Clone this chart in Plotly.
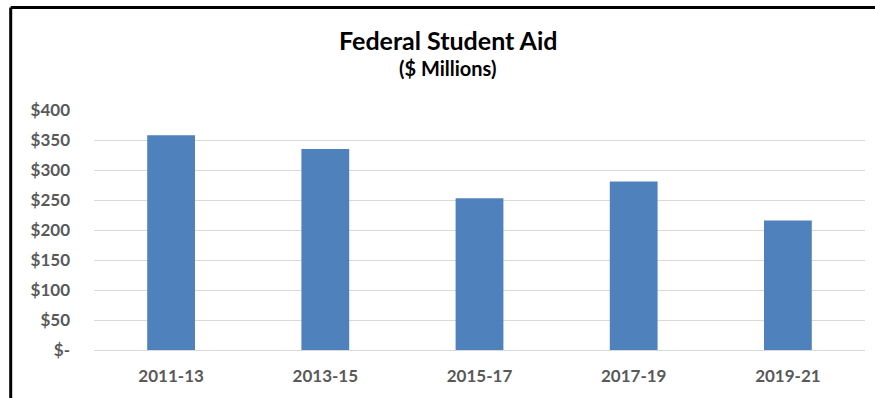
import plotly.graph_objects as go

categories = ["2011-13", "2013-15", "2015-17", "2017-19", "2019-21"]
values = [358, 335, 253, 281, 216]
tick_vals = [0, 50, 100, 150, 200, 250, 300, 350, 400]
tick_text = ["$-", "$50", "$100", "$150", "$200", "$250", "$300", "$350", "$400"]

W, H = 875, 398
ML, MR, MT, MB = 94, 10, 110, 48
pw = W - ML - MR
ph = H - MT - MB

FONT = "Lato"
GRAY = "#595959"

fig = go.Figure(go.Bar(x=categories, y=values, marker=dict(color="#4F81BD", line=dict(width=0)), width=0.31))

# border lines (left and top)
left_x = (10.7 - ML) / pw
top_y = (H - MB - 7.5) / ph
fig.add_shape(type="line", xref="paper", yref="paper", x0=left_x, x1=left_x, y0=-0.3, y1=top_y,
              line=dict(color="black", width=3))
fig.add_shape(type="line", xref="paper", yref="paper", x0=left_x, x1=(W + 5 - ML) / pw, y0=top_y, y1=top_y,
              line=dict(color="black", width=3))

fig.add_annotation(text="<b>Federal Student Aid</b>", xref="paper", yref="paper",
                   x=(448 - ML) / pw, y=(H - MB - 40) / ph, showarrow=False,
                   font=dict(family=FONT, size=25, color="black"), xanchor="center", yanchor="middle")
fig.add_annotation(text="<b>($ Millions)</b>", xref="paper", yref="paper",
                   x=(447 - ML) / pw, y=(H - MB - 68) / ph, showarrow=False,
                   font=dict(family=FONT, size=20, color="black"), xanchor="center", yanchor="middle")

fig.update_layout(
    width=W, height=H,
    margin=dict(l=ML, r=MR, t=MT, b=MB),
    paper_bgcolor="white", plot_bgcolor="white",
    showlegend=False,
    xaxis=dict(showgrid=False, showline=False, ticks="",
               tickfont=dict(family=FONT, size=17, color=GRAY, weight="bold"),
               ticklabelstandoff=14),
    yaxis=dict(range=[0, 400], tickvals=tick_vals, ticktext=tick_text, showgrid=True,
               gridcolor="#D9D9D9", gridwidth=1, zeroline=True, zerolinecolor="#D9D9D9", zerolinewidth=1,
               showline=False, ticks="", tickfont=dict(family=FONT, size=17, color=GRAY, weight="bold"),
               ticklabelstandoff=23),
)

fig.write_html("out.html")
